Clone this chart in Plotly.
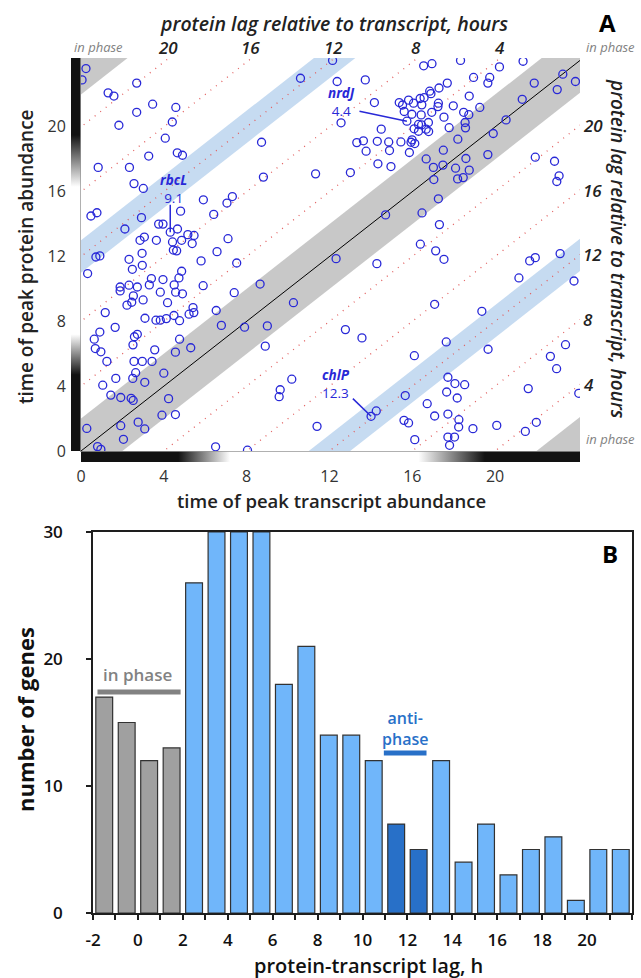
import plotly.graph_objects as go

W, H = 641, 978
FONT = "Open Sans"

# ---- panel A: time of peak abundance (hours) per gene ----
TRANSCRIPT_PEAK = [
    # upper left
    0.24, 0.05, 2.69, 1.31, 1.59, 3.46, 4.58, 2.69, 4.41, 1.83,
    4.07, 10.6, 8.72, 3.27, 4.65, 4.9, 0.83, 2.34, 8.81, 11.33,
    2.56, 3.01, 5.91, 7.31, 7.05, 4.81, 6.41, 0.77, 0.48, 2.92,
    2.12, 3.75, 3.96, 4.66, 4.31, 5.16, 5.46, 3.06, 2.85, 3.64,
    4.42, 4.86, 5.37, 7.1, 4.46, 4.62, 2.95, 6.57,
    # lower left
    0.72, 0.91, 2.32, 2.96, 2.48, 0.32, 4.86, 4.73, 5.8, 7.52,
    3.4, 3.96, 1.89, 1.89, 2.32, 2.72, 3.3, 4.5, 5.9, 8.65,
    2.53, 3.83, 4.57, 4.9, 7.4, 2.22, 2.45, 3.0, 4.18, 1.17,
    5.22, 5.45, 5.41, 6.53, 10.26, 3.09, 3.62, 3.83, 4.12, 4.49,
    4.76, 1.65, 0.91, 0.64, 0.69, 0.96, 2.58, 2.72, 2.51, 3.56,
    4.56, 4.76, 5.3, 6.78, 7.9, 9.0, 8.9, 1.25, 2.56, 2.96,
    3.43, 2.64, 4.0, 1.68, 2.5, 3.08, 1.05, 1.44, 1.92, 2.42,
    2.52, 4.23, 10.18, 9.62, 9.57, 3.91, 4.56, 0.28, 1.92, 2.76,
    3.08, 2.05, 0.8, 0.96, 6.5, 8.04, 11.4,
    # upper right
    12.15, 16.55, 16.95, 18.33, 20.21, 21.35, 12.37, 13.73, 18.96, 19.74,
    19.65, 21.89, 23.27, 23.88, 23.0, 17.69, 17.29, 16.84, 16.9, 16.57,
    16.38, 15.82, 15.37, 15.53, 16.06, 16.46, 14.17, 15.61, 15.98, 16.43,
    16.94, 17.26, 17.24, 17.98, 18.75, 19.26, 18.48, 18.73, 17.53, 12.56,
    14.5, 15.74, 16.3, 16.45, 16.78, 16.67, 16.79, 16.09, 16.3, 17.78,
    18.55, 18.57, 20.53, 21.31, 19.91, 18.2, 13.32, 13.64, 14.31, 14.86,
    15.45, 15.99, 15.94, 16.12, 13.77, 14.9, 15.86, 17.5, 14.34, 14.97,
    16.67, 17.02, 17.48, 18.09, 18.59, 18.75, 18.19, 18.46, 17.04, 19.65,
    21.94, 22.87, 23.09, 22.98, 13.01, 17.26, 14.71, 16.47, 17.31, 16.39,
    17.13,
    # lower right
    12.32, 14.29, 17.53, 21.67, 21.94, 23.14, 21.15, 23.81, 17.08, 19.36,
    12.77, 13.57, 17.64, 19.66, 16.1, 22.67, 23.4, 22.97, 17.72, 18.06,
    18.53, 17.66, 18.17, 21.6, 24.04, 15.66, 16.72, 14.26, 14.01, 15.6,
    15.82, 17.08, 17.72, 18.25, 18.24, 18.93, 20.08, 21.46, 21.99, 16.12,
    17.72, 18.04, 17.8,
]
PROTEIN_PEAK = [
    # upper left
    23.6, 22.9, 22.7, 22.1, 21.9, 21.4, 21.2, 20.9, 20.3, 20.1,
    19.3, 23.0, 19.05, 18.2, 18.4, 18.25, 17.5, 17.5, 16.9, 17.1,
    16.5, 16.2, 15.5, 15.7, 15.3, 14.8, 14.6, 14.7, 14.5, 14.4,
    13.7, 14.0, 14.0, 13.7, 13.5, 13.35, 13.3, 13.2, 13.0, 13.0,
    12.9, 13.0, 12.8, 13.1, 12.4, 12.35, 12.2, 12.3,
    # lower left
    11.97, 12.04, 11.83, 11.46, 11.21, 10.95, 11.09, 10.68, 11.73, 11.6,
    10.64, 10.58, 10.12, 9.88, 10.23, 10.12, 10.25, 10.25, 10.2, 10.3,
    9.57, 9.8, 9.8, 9.7, 9.77, 9.0, 9.18, 9.32, 9.15, 8.54,
    8.44, 8.54, 8.85, 8.67, 9.15, 8.19, 8.07, 8.07, 8.17, 8.36,
    8.04, 7.63, 7.34, 6.9, 6.32, 6.12, 7.05, 7.2, 6.55, 6.24,
    6.1, 6.9, 6.37, 7.75, 7.64, 7.72, 6.47, 5.53, 5.53, 5.53,
    5.53, 4.83, 4.8, 4.48, 4.48, 4.24, 4.06, 3.45, 3.3, 3.25,
    3.12, 3.23, 4.43, 3.78, 3.35, 2.21, 2.25, 1.39, 1.56, 1.78,
    1.36, 0.72, 0.27, 0.1, 0.26, 0.05, 1.52,
    # upper right
    24.1, 23.77, 23.9, 24.1, 23.7, 24.05, 22.8, 22.9, 23.05, 23.05,
    22.7, 22.7, 23.25, 22.8, 22.3, 22.7, 22.4, 22.2, 22.05, 21.8,
    21.75, 21.65, 21.5, 21.35, 21.46, 21.36, 21.5, 20.95, 20.78, 20.74,
    20.9, 21.46, 21.25, 21.3, 21.9, 21.2, 20.9, 20.75, 20.6, 20.25,
    19.86, 20.35, 20.15, 20.12, 20.27, 19.86, 19.71, 19.88, 19.73, 19.95,
    20.27, 19.94, 20.43, 21.7, 19.59, 19.24, 19.03, 19.14, 19.11, 19.07,
    19.07, 19.2, 19.05, 18.97, 18.5, 18.54, 18.42, 18.56, 17.72, 17.55,
    18.02, 17.5, 17.64, 17.45, 18.05, 17.33, 16.79, 16.87, 16.75, 18.29,
    18.13, 17.88, 16.98, 16.63, 17.18, 15.56, 14.57, 14.69, 13.97, 12.76,
    12.35,
    # lower right
    11.87, 11.56, 11.83, 11.73, 11.93, 12.18, 10.68, 10.49, 9.05, 8.62,
    7.49, 6.98, 6.73, 6.28, 5.88, 5.84, 6.56, 5.08, 4.55, 4.16,
    4.09, 3.64, 3.27, 3.85, 3.56, 3.42, 2.92, 2.47, 2.14, 1.89,
    1.73, 2.16, 2.28, 1.93, 1.48, 1.38, 1.58, 1.21, 1.77, 0.7,
    0.86, 0.86, 0.35,
]

IN_PHASE_LAG = (-2, 2)
ANTI_PHASE_LAG = (11, 13)
GUIDE_LAGS = [4, 8, 12, 16, 20]

# light/dark cycle shown along both axes (1 = dark)
LIGHT_HOURS = [0, 4.7, 7.2, 16.3, 19.5, 24]
DARKNESS = [0.93, 0.93, 0.0, 0.0, 0.93, 0.93]

GENE_NAMES = ["rbcL", "nrdJ", "chlP"]
GENE_LAG_TEXT = ["9.1", "4.4", "12.3"]
GENE_TRANSCRIPT = [4.31, 15.74, 14.01]
GENE_PROTEIN = [13.5, 20.35, 2.14]

# ---- panel B: histogram of protein-transcript lag ----
LAG_BIN_START = list(range(-2, 22))
GENE_COUNTS = [17, 15, 12, 13, 26, 30, 30, 30, 18, 21, 14, 14,
               12, 7, 5, 12, 4, 7, 3, 5, 6, 1, 5, 5]
LAG_TICKS = list(range(-2, 21, 2))
LAG_TICK_TEXT = ["-2", "0", "2", "4", "6", "8", "10", "12", "14", "16", "18", "20"]
COUNT_TICKS = [0, 10, 20, 30]

X_MAX, Y_MAX = 24.1, 24.25
BLUE_PT = "rgb(40,40,215)"
GRAY_BAND = "rgb(200,200,200)"
BLUE_BAND = "rgb(198,219,241)"
GUIDE_COLOR = "rgb(226,95,95)"
LIGHT_BLUE = "rgb(112,182,250)"
DARK_BLUE = "rgb(40,112,200)"
BAR_GRAY = "rgb(160,160,160)"


def px(x):
    return x / W


def py(y):
    return 1 - y / H


def band(lo, hi, color):
    xs = [-2, 26, 26, -2, -2]
    ys = [-2 + lo, 26 + lo, 26 + hi, -2 + hi, -2 + lo]
    return go.Scatter(x=xs, y=ys, fill="toself", fillcolor=color, mode="lines",
                      line=dict(width=0), hoverinfo="skip", showlegend=False)


def shade_scale(total):
    stops = []
    for h, d in zip(LIGHT_HOURS, DARKNESS):
        g = int(round(255 * (1 - d)))
        stops.append([min(h / total, 1.0), f"rgb({g},{g},{g})"])
    if stops[-1][0] < 1:
        stops.append([1.0, stops[-1][1]])
    return stops


fig = go.Figure()

# bands
fig.add_trace(band(IN_PHASE_LAG[0], IN_PHASE_LAG[1], GRAY_BAND))
fig.add_trace(band(24 + IN_PHASE_LAG[0], 24 + IN_PHASE_LAG[1] + 4, GRAY_BAND))
fig.add_trace(band(-24 + IN_PHASE_LAG[0] - 4, -24 + IN_PHASE_LAG[1], GRAY_BAND))
fig.add_trace(band(ANTI_PHASE_LAG[0], ANTI_PHASE_LAG[1], BLUE_BAND))
fig.add_trace(band(ANTI_PHASE_LAG[0] - 24, ANTI_PHASE_LAG[1] - 24, BLUE_BAND))

# dotted guide lines of constant lag
for lag in GUIDE_LAGS:
    for L in (lag, lag - 24):
        fig.add_trace(go.Scatter(x=[-2, 26], y=[-2 + L, 26 + L], mode="lines",
                                 line=dict(color=GUIDE_COLOR, width=1.3, dash="1px,6px"),
                                 hoverinfo="skip", showlegend=False))

# zero lag
fig.add_trace(go.Scatter(x=[-2, 26], y=[-2, 26], mode="lines",
                         line=dict(color="black", width=1), hoverinfo="skip", showlegend=False))

fig.add_trace(go.Scatter(x=TRANSCRIPT_PEAK, y=PROTEIN_PEAK, mode="markers",
                         marker=dict(symbol="circle-open", size=8, color=BLUE_PT,
                                     line=dict(width=1.3, color=BLUE_PT)),
                         showlegend=False))

# leader lines for labelled genes
LEAD_X = [4.31, 13.45, 13.13]
LEAD_Y = [15.2, 20.97, 3.23]
for lx, ly, gx, gy in zip(LEAD_X, LEAD_Y, GENE_TRANSCRIPT, GENE_PROTEIN):
    fig.add_trace(go.Scatter(x=[lx, gx], y=[ly, gy], mode="lines",
                             line=dict(color=BLUE_PT, width=1.5), hoverinfo="skip", showlegend=False))

# light/dark strips
fig.add_trace(go.Scatter(x=[0, 1, 1, 0, 0], y=[0, 0, Y_MAX, Y_MAX, 0], fill="toself", mode="lines",
                         line=dict(width=0), fillgradient=dict(type="vertical", colorscale=shade_scale(Y_MAX)),
                         xaxis="x3", yaxis="y3", hoverinfo="skip", showlegend=False))
fig.add_trace(go.Scatter(x=[0, X_MAX, X_MAX, 0, 0], y=[0, 0, 1, 1, 0], fill="toself", mode="lines",
                         line=dict(width=0), fillgradient=dict(type="horizontal", colorscale=shade_scale(X_MAX)),
                         xaxis="x4", yaxis="y4", hoverinfo="skip", showlegend=False))

# panel B bars
bar_colors = []
for b in LAG_BIN_START:
    if IN_PHASE_LAG[0] <= b < IN_PHASE_LAG[1]:
        bar_colors.append(BAR_GRAY)
    elif ANTI_PHASE_LAG[0] <= b < ANTI_PHASE_LAG[1]:
        bar_colors.append(DARK_BLUE)
    else:
        bar_colors.append(LIGHT_BLUE)

fig.add_trace(go.Bar(x=[b + 0.5 for b in LAG_BIN_START], y=GENE_COUNTS, width=0.75,
                     marker=dict(color=bar_colors, line=dict(color="rgb(50,50,50)", width=1.2)),
                     xaxis="x2", yaxis="y2", showlegend=False))

fig.add_trace(go.Scatter(x=[IN_PHASE_LAG[0] + 0.2, IN_PHASE_LAG[1] - 0.1], y=[17.4, 17.4], mode="lines",
                         line=dict(color="rgb(130,130,130)", width=5), xaxis="x2", yaxis="y2",
                         hoverinfo="skip", showlegend=False))
fig.add_trace(go.Scatter(x=[ANTI_PHASE_LAG[0] - 0.05, ANTI_PHASE_LAG[1] - 0.15], y=[12.6, 12.6], mode="lines",
                         line=dict(color=DARK_BLUE, width=5), xaxis="x2", yaxis="y2",
                         hoverinfo="skip", showlegend=False))

ann = []


def text(t, x, y, size, xref="paper", yref="paper", color="#222", weight=600, style="normal",
         angle=0, xanchor="center", yanchor="middle"):
    ann.append(dict(text=t, x=x, y=y, xref=xref, yref=yref, showarrow=False, textangle=angle,
                    xanchor=xanchor, yanchor=yanchor, borderpad=0,
                    font=dict(family=FONT, size=size, color=color, weight=weight, style=style)))


# panel A texts
text("protein lag relative to transcript, hours", px(334), py(23), 19.5, style="italic")
for lag in GUIDE_LAGS:
    text(str(lag), 24.2 - lag, py(47), 17, xref="x", style="italic")
    text(str(lag), px(582), lag + 0.1, 17, yref="y", style="italic", xanchor="left")
text("protein lag relative to transcript, hours", px(618), py(249), 19, style="italic", angle=90)
for ix, iy in [(98, 47), (636, 47), (636, 439)]:
    text("in phase", px(ix), py(iy), 13, color="rgb(130,130,130)", weight=400, style="italic",
         xanchor="center" if ix < 300 else "right")
text("A", px(607), py(22), 24, color="black", weight=700)
text("time of peak protein abundance", px(26), py(257), 19, angle=-90)
text("time of peak transcript abundance", px(331), py(500), 18.5)

LABEL_X = [4.45, 12.6, 12.3]
LABEL_Y = [16.15, 21.55, 4.15]
for name, lag_t, lx, ly in zip(GENE_NAMES, GENE_LAG_TEXT, LABEL_X, LABEL_Y):
    text(f"<b><i>{name}</i></b><br>{lag_t}", lx, ly, 13.5, xref="x", yref="y",
         color=BLUE_PT, weight=400)

# panel B texts
text("B", px(610), py(553), 24, color="black", weight=700)
text("number of genes", px(25), py(720), 22, color="#111", weight=700, angle=-90)
text("protein-transcript lag, h", px(368), py(965), 20, color="#111")
text("in phase", 0, 18.8, 17, xref="x2", yref="y2", color="rgb(130,130,130)")
text("anti-<br>phase", 11.9, 14.55, 16, xref="x2", yref="y2", color=DARK_BLUE)

top_ticks = [0, 4, 8, 12, 16, 20]
axis_a = dict(showgrid=False, zeroline=False, showline=True, linecolor="rgb(150,150,150)", linewidth=1,
              ticks="", tickvals=top_ticks, tickfont=dict(family=FONT, size=16, color="#333"),
              ticklabelstandoff=11, automargin=False)
axis_b = dict(showgrid=False, zeroline=False, showline=True, mirror=True, linecolor="rgb(30,30,30)",
              linewidth=1.5, ticks="outside", ticklen=5, tickwidth=1.5, tickcolor="rgb(30,30,30)",
              tickfont=dict(family=FONT, size=17, color="#111", weight=600), automargin=False)
hidden = dict(visible=False, automargin=False, showgrid=False, zeroline=False)

fig.update_layout(
    template="none",
    width=W, height=H, margin=dict(l=0, r=0, t=0, b=0, autoexpand=False),
    paper_bgcolor="white", plot_bgcolor="white", showlegend=False,
    annotations=ann,
    xaxis=dict(axis_a, domain=[px(81), px(580)], range=[0, X_MAX], anchor="y"),
    yaxis=dict(axis_a, domain=[py(451), py(58)], range=[0, Y_MAX], anchor="x"),
    xaxis2=dict(axis_b, domain=[px(93), px(632)], range=[-2, 22], anchor="y2",
                tickvals=LAG_TICKS, ticktext=LAG_TICK_TEXT, ticklabelstandoff=6,
                minor=dict(dtick=1, tick0=-2, ticks="outside", ticklen=5, tickwidth=1.5,
                           tickcolor="rgb(30,30,30)")),
    yaxis2=dict(axis_b, domain=[py(913), py(532)], range=[0, 30], anchor="x2",
                tickvals=COUNT_TICKS, ticklabelstandoff=20),
    xaxis3=dict(hidden, domain=[px(71), px(80.5)], range=[0, 1], anchor="y3"),
    yaxis3=dict(hidden, domain=[py(451), py(58)], range=[0, Y_MAX], anchor="x3"),
    xaxis4=dict(hidden, domain=[px(81), px(580)], range=[0, X_MAX], anchor="y4"),
    yaxis4=dict(hidden, domain=[py(462), py(451.5)], range=[0, 1], anchor="x4"),
)

# the page's default body margin would shift the figure by 8px
fig.write_html("out.html", config={"displayModeBar": False},
               post_script="document.body.style.margin = '0px';")
